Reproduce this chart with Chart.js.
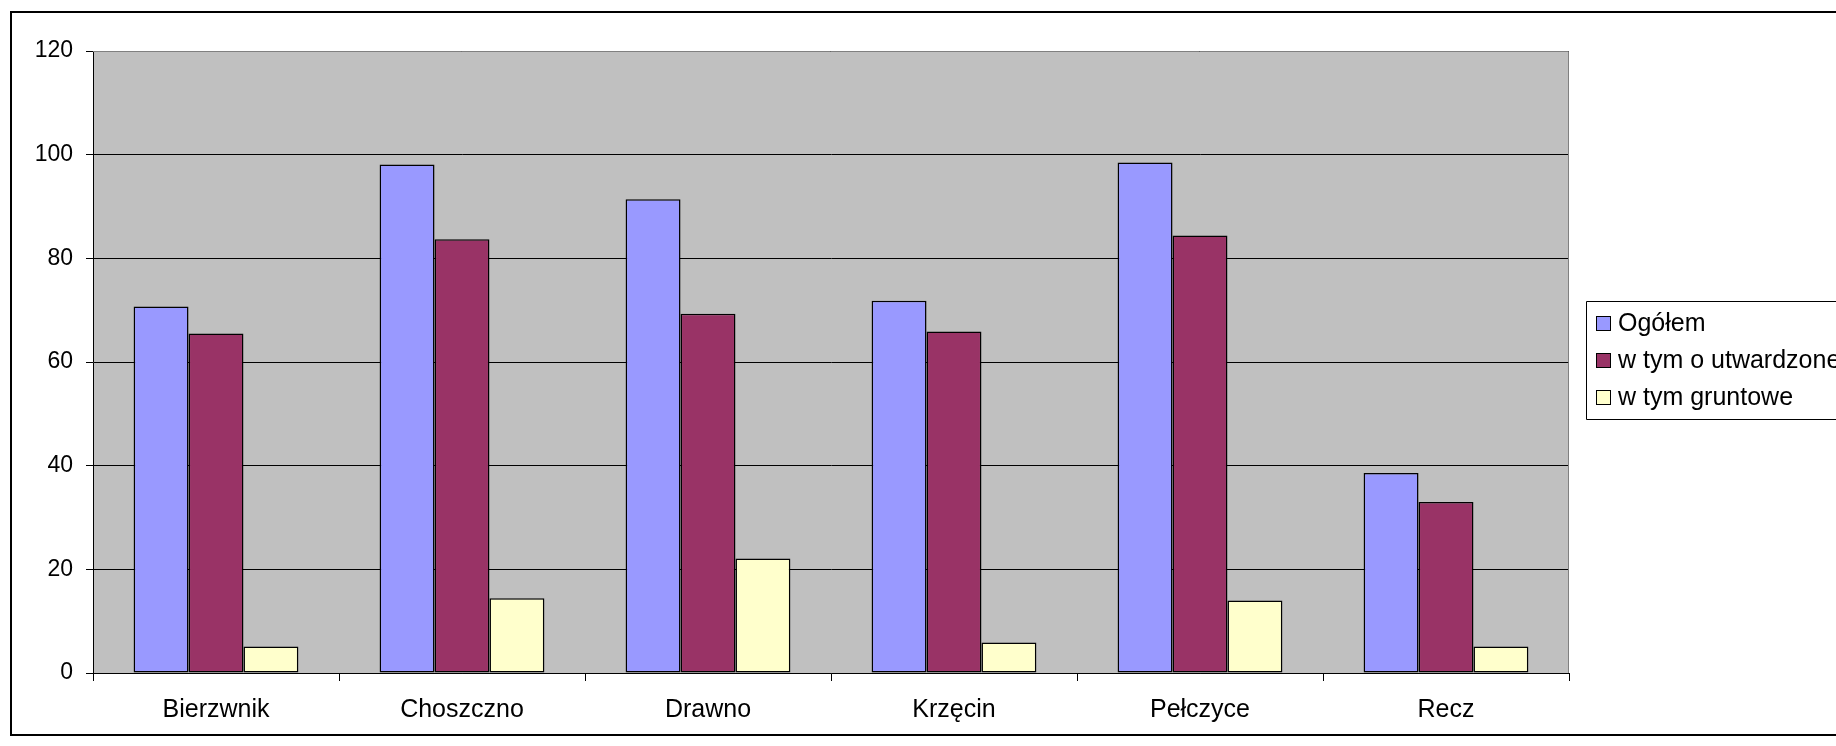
<!DOCTYPE html>
<html>
<head>
<meta charset="utf-8">
<script src="https://cdn.jsdelivr.net/npm/chart.js@4/dist/chart.umd.min.js"></script>
<style>
  html, body { margin: 0; padding: 0; background: #fff; overflow: hidden; }
  #wrap { position: relative; width: 1836px; height: 746px; overflow: hidden; }
  #chart { position: absolute; left: 0; top: 0; }
</style>
</head>
<body>
<div id="wrap"><canvas id="chart" width="1836" height="746"></canvas></div>
<script>
// dane wykresu
var categories = ['Bierzwnik', 'Choszczno', 'Drawno', 'Krzęcin', 'Pełczyce', 'Recz'];
var seriesNames = ['Ogółem', 'w tym o utwardzonej', 'w tym gruntowe'];
var ogolem = [70.7, 98.1, 91.4, 71.8, 98.5, 38.6];
var utwardzone = [65.5, 83.7, 69.3, 65.9, 84.4, 33.0];
var gruntowe = [5.1, 14.4, 22.1, 5.9, 14.0, 5.1];
var yTicks = [0, 20, 40, 60, 80, 100, 120];

var seriesColors = ['#9999FF', '#993366', '#FFFFCC'];
var fontFamily = '"Liberation Sans", Arial, sans-serif';

// tło i obramowanie obszaru wykresu, zewnętrzna ramka
var framePlugin = {
  id: 'frame',
  beforeDraw: function(chart) {
    var ctx = chart.ctx;
    var a = chart.chartArea;
    ctx.save();
    ctx.fillStyle = '#C0C0C0';
    ctx.fillRect(a.left, a.top, a.right - a.left, a.bottom - a.top);
    ctx.restore();
  },
  afterDraw: function(chart) {
    var ctx = chart.ctx;
    var a = chart.chartArea;
    ctx.save();
    ctx.strokeStyle = '#808080';
    ctx.lineWidth = 1;
    ctx.beginPath();
    ctx.moveTo(a.left, a.top + 0.5);
    ctx.lineTo(a.right - 0.5, a.top + 0.5);
    ctx.lineTo(a.right - 0.5, a.bottom);
    ctx.stroke();
    // zewnętrzna ramka (prawa krawędź poza obrazem)
    ctx.strokeStyle = '#000';
    ctx.lineWidth = 2;
    ctx.beginPath();
    ctx.moveTo(1836, 12);
    ctx.lineTo(11, 12);
    ctx.lineTo(11, 735);
    ctx.lineTo(1836, 735);
    ctx.stroke();
    ctx.restore();
  }
};

// legenda w stylu Excela (ucięta przy prawej krawędzi)
var legendPlugin = {
  id: 'boxLegend',
  afterDraw: function(chart) {
    var ctx = chart.ctx;
    var a = chart.chartArea;
    var x0 = a.right + 17;
    var y0 = 301;
    var rowH = 37;
    var n = chart.data.datasets.length;
    var h = rowH * (n - 1) + 44;
    ctx.save();
    ctx.fillStyle = '#fff';
    ctx.fillRect(x0, y0, chart.width - x0, h);
    ctx.strokeStyle = '#000';
    ctx.lineWidth = 1;
    ctx.beginPath();
    ctx.moveTo(chart.width, y0 + 0.5);
    ctx.lineTo(x0 + 0.5, y0 + 0.5);
    ctx.lineTo(x0 + 0.5, y0 + h + 0.5);
    ctx.lineTo(chart.width, y0 + h + 0.5);
    ctx.stroke();
    ctx.font = '25px ' + fontFamily;
    ctx.textBaseline = 'middle';
    chart.data.datasets.forEach(function(ds, i) {
      var cy = y0 + 22 + i * rowH;
      ctx.fillStyle = ds.backgroundColor;
      ctx.fillRect(x0 + 10, cy - 7, 15, 15);
      ctx.strokeStyle = '#000';
      ctx.strokeRect(x0 + 10.5, cy - 6.5, 14, 14);
      ctx.fillStyle = '#000';
      ctx.fillText(ds.label, x0 + 32, cy + 1);
    });
    ctx.restore();
  }
};

var datasetValues = [ogolem, utwardzone, gruntowe];

new Chart(document.getElementById('chart'), {
  type: 'bar',
  data: {
    labels: categories,
    datasets: datasetValues.map(function(vals, i) {
      return {
        label: seriesNames[i],
        data: vals,
        backgroundColor: seriesColors[i],
        borderColor: '#000',
        borderWidth: 1.5,
        borderSkipped: false,
        categoryPercentage: 0.67,
        barPercentage: 1.0
      };
    })
  },
  options: {
    responsive: false,
    animation: false,
    devicePixelRatio: 1,
    layout: { padding: { top: 51, right: 267, bottom: 0, left: 0 } },
    plugins: {
      legend: { display: false },
      tooltip: { enabled: false }
    },
    scales: {
      x: {
        offset: true,
        afterFit: function(scale) { scale.height = 73; },
        grid: {
          offset: true,
          drawOnChartArea: false,
          drawTicks: true,
          tickLength: 8,
          color: '#000'
        },
        border: { display: true, color: '#000', width: 1 },
        ticks: {
          color: '#000',
          padding: 14,
          maxRotation: 0,
          font: { family: fontFamily, size: 25 }
        }
      },
      y: {
        min: 0,
        max: 120,
        afterFit: function(scale) { scale.width = 93; },
        afterBuildTicks: function(scale) {
          scale.ticks = yTicks.map(function(v) { return { value: v }; });
        },
        grid: {
          color: '#000',
          lineWidth: 1,
          drawTicks: true,
          tickLength: 7
        },
        border: { display: true, color: '#000', width: 1 },
        ticks: {
          color: '#000',
          padding: 13,
          font: { family: fontFamily, size: 23 }
        }
      }
    }
  },
  plugins: [framePlugin, legendPlugin]
});
</script>
</body>
</html>
